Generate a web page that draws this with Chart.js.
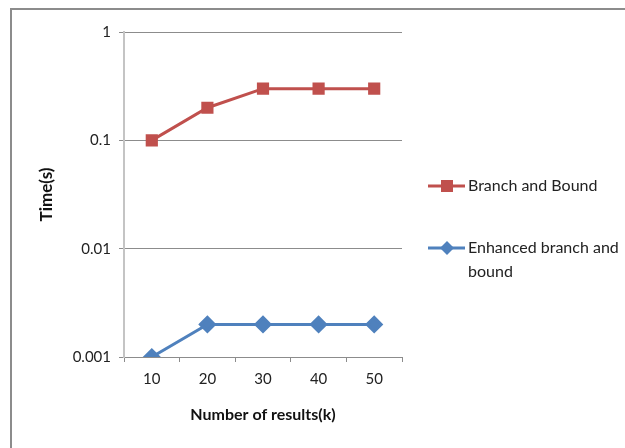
<!DOCTYPE html>
<html><head><meta charset="utf-8">
<script src="https://cdn.jsdelivr.net/npm/chart.js@4/dist/chart.umd.min.js"></script>
<style>
html,body{margin:0;padding:0;background:#fff;overflow:hidden;width:625px;height:448px;}
#frame{position:absolute;left:10px;top:8px;width:700px;height:500px;border:2px solid #8c8c8c;box-sizing:border-box;}
#wrap{position:absolute;left:0;top:0;width:625px;height:448px;}
</style></head>
<body>
<div id="frame"></div>
<div id="wrap"><canvas id="c" width="625" height="448"></canvas></div>
<script>
const categories = ['10','20','30','40','50'];
const branchAndBound = [0.1, 0.2, 0.3, 0.3, 0.3];
const enhancedBranchAndBound = [0.001, 0.002, 0.002, 0.002, 0.002];
const yTicks = [0.001, 0.01, 0.1, 1];
const seriesNames = ['Branch and Bound', ['Enhanced branch and', 'bound']];

const FONT = "Lato, 'Open Sans', sans-serif";
const RED = '#C0504D', BLUE = '#4F81BD';

const legendPlugin = {
  id: 'customLegend',
  afterDraw(chart) {
    const ctx = chart.ctx;
    const items = [{y:186}, {y:248}];
    chart.data.datasets.forEach((ds, i) => {
      const y = items[i].y;
      ctx.save();
      ctx.strokeStyle = ds.borderColor;
      ctx.lineWidth = 3;
      ctx.beginPath(); ctx.moveTo(428, y); ctx.lineTo(465, y); ctx.stroke();
      ctx.fillStyle = ds.pointBackgroundColor;
      if (ds.pointStyle === 'rect') {
        ctx.fillRect(447 - 6, y - 6, 12, 12);
      } else {
        ctx.beginPath(); ctx.moveTo(447, y - 7); ctx.lineTo(454, y); ctx.lineTo(447, y + 7); ctx.lineTo(440, y); ctx.closePath(); ctx.fill();
      }
      ctx.fillStyle = '#222';
      ctx.font = '16px ' + FONT;
      ctx.textBaseline = 'middle';
      const lines = Array.isArray(ds.label) ? ds.label : [ds.label];
      lines.forEach((t, k) => ctx.fillText(t, 468, y + k * 24));
      ctx.restore();
    });
  }
};

new Chart(document.getElementById('c'), {
  type: 'line',
  data: {
    labels: categories,
    datasets: [
      {label: seriesNames[0], data: branchAndBound, borderColor: RED, backgroundColor: RED,
       pointBackgroundColor: RED, pointBorderColor: RED, pointStyle: 'rect', pointRadius: 6.5, pointHoverRadius: 6.5,
       borderWidth: 3, tension: 0},
      {label: seriesNames[1], data: enhancedBranchAndBound, borderColor: BLUE, backgroundColor: BLUE,
       pointBackgroundColor: BLUE, pointBorderColor: BLUE, pointStyle: 'rectRot', pointRadius: 7, pointHoverRadius: 7,
       borderWidth: 3, tension: 0}
    ]
  },
  options: {
    responsive: false,
    animation: false,
    events: [],
    layout: {padding: {left: 0, top: 32, right: 223, bottom: 0}},
    plugins: {legend: {display: false}, tooltip: {enabled: false}},
    scales: {
      x: {
        type: 'category',
        offset: true,
        grid: {display: true, drawOnChartArea: false, drawTicks: true, tickLength: 5, color: '#8c8c8c', lineWidth: 1, offset: true},
        border: {display: true, color: '#8c8c8c', width: 1},
        ticks: {color: '#222', font: {family: FONT, size: 15}, padding: 8},
        title: {display: true, text: 'Number of results(k)', color: '#111', font: {family: FONT, size: 16, weight: 'bold'}, padding: {top: 0, bottom: 24}},
        afterFit(s) { s.height = 91; }
      },
      y: {
        type: 'logarithmic',
        min: 0.001, max: 1,
        afterBuildTicks(s) { s.ticks = yTicks.map(v => ({value: v})); },
        grid: {color: '#8c8c8c', lineWidth: 1, drawTicks: true, tickLength: 5},
        border: {display: true, color: '#c4c4c4', width: 2},
        ticks: {color: '#222', font: {family: FONT, size: 15}, padding: 8,
                callback: v => String(v)},
        title: {display: true, text: 'Time(s)', color: '#111', font: {family: FONT, size: 17, weight: 'bold'}, padding: {top: 36, bottom: 0}},
        afterFit(s) { s.width = 124; }
      }
    }
  },
  plugins: [legendPlugin]
});
</script>
</body></html>
